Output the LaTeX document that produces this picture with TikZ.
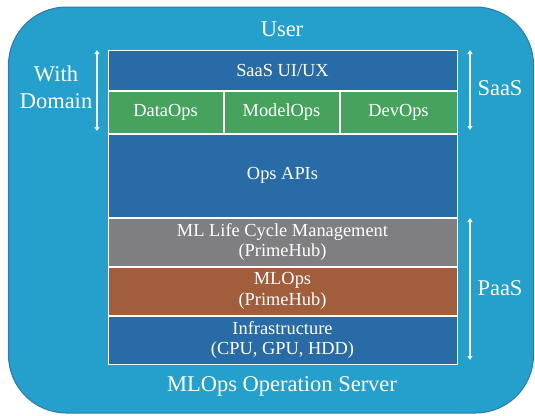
\documentclass[tikz,border=0pt]{standalone}
\usepackage{fontspec}
\setmainfont{LiberationSerif}[Extension=.ttf,UprightFont=*-Regular,BoldFont=*-Bold]
\usetikzlibrary{arrows.meta,positioning}
\definecolor{server}{HTML}{259FCB}
\definecolor{serveredge}{HTML}{2C79B3}
\definecolor{layerblue}{HTML}{286BA6}
\definecolor{opsgreen}{HTML}{46A35D}
\definecolor{lcgrey}{HTML}{7F7F82}
\definecolor{mlbrown}{HTML}{A15D3C}

\begin{document}
\begin{tikzpicture}[x=1pt,y=-1pt,
  layer/.style={draw=white,line width=1pt,minimum width=349pt,inner sep=0pt,
                align=center,text=white,font=\rmfamily\fontsize{18.4}{20.5}\selectfont},
  cell/.style={layer,minimum width=115pt,minimum height=42pt,fill=opsgreen},
  tag/.style={text=white,align=center,inner sep=0pt,font=\rmfamily\fontsize{22.5}{27}\selectfont},
  span/.style={{Triangle[length=4pt,width=5pt]}-{Triangle[length=4pt,width=5pt]},
               draw=white!92!gray,line width=1.6pt}
]
\useasboundingbox (0,0) rectangle (535,415);
\draw[fill=server,draw=serveredge,line width=1pt,rounded corners=58pt] (8.5,7) rectangle (533.5,413);

% the layer stack
\node[layer,fill=layerblue,minimum height=40pt,anchor=north west] (saas) at (107.5,49.5) {SaaS UI/UX};
\node[cell,below right=0pt and 0pt of saas.south west] (data) {DataOps};
\node[cell,right=0pt of data] (model) {ModelOps};
\node[cell,right=0pt of model,minimum width=117pt] (dev) {DevOps};
\node[layer,fill=layerblue,minimum height=83pt,below right=0pt and 0pt of data.south west] (ops) {Ops APIs};
\node[layer,fill=lcgrey,minimum height=48pt,below=0pt of ops] (life) {ML Life Cycle Management\\(PrimeHub)};
\node[layer,fill=mlbrown,minimum height=48pt,below=0pt of life] (mlops) {MLOps\\(PrimeHub)};
\node[layer,fill=layerblue,minimum height=48pt,below=0pt of mlops] (infra) {Infrastructure\\(CPU, GPU, HDD)};

% labels round the stack
\node[tag] (user) at (282,29) {User};
\node[tag] (server) at (282,386) {MLOps Operation Server};
\node[tag] (domain) at (56,87) {With\\Domain};
\node[tag] (saaslbl) at (500,88) {SaaS};
\node[tag] (paaslbl) at (500,288) {PaaS};

\coordinate (wtop) at (97,50);
\coordinate (wbot) at (97,131);
\coordinate (stop) at (470,50);
\coordinate (sbot) at (470,130);
\coordinate (ptop) at (470,218);
\coordinate (pbot) at (470,360);
\draw[span] (wtop) -- (wbot);
\draw[span] (stop) -- (sbot);
\draw[span] (ptop) -- (pbot);
\end{tikzpicture}
\end{document}
